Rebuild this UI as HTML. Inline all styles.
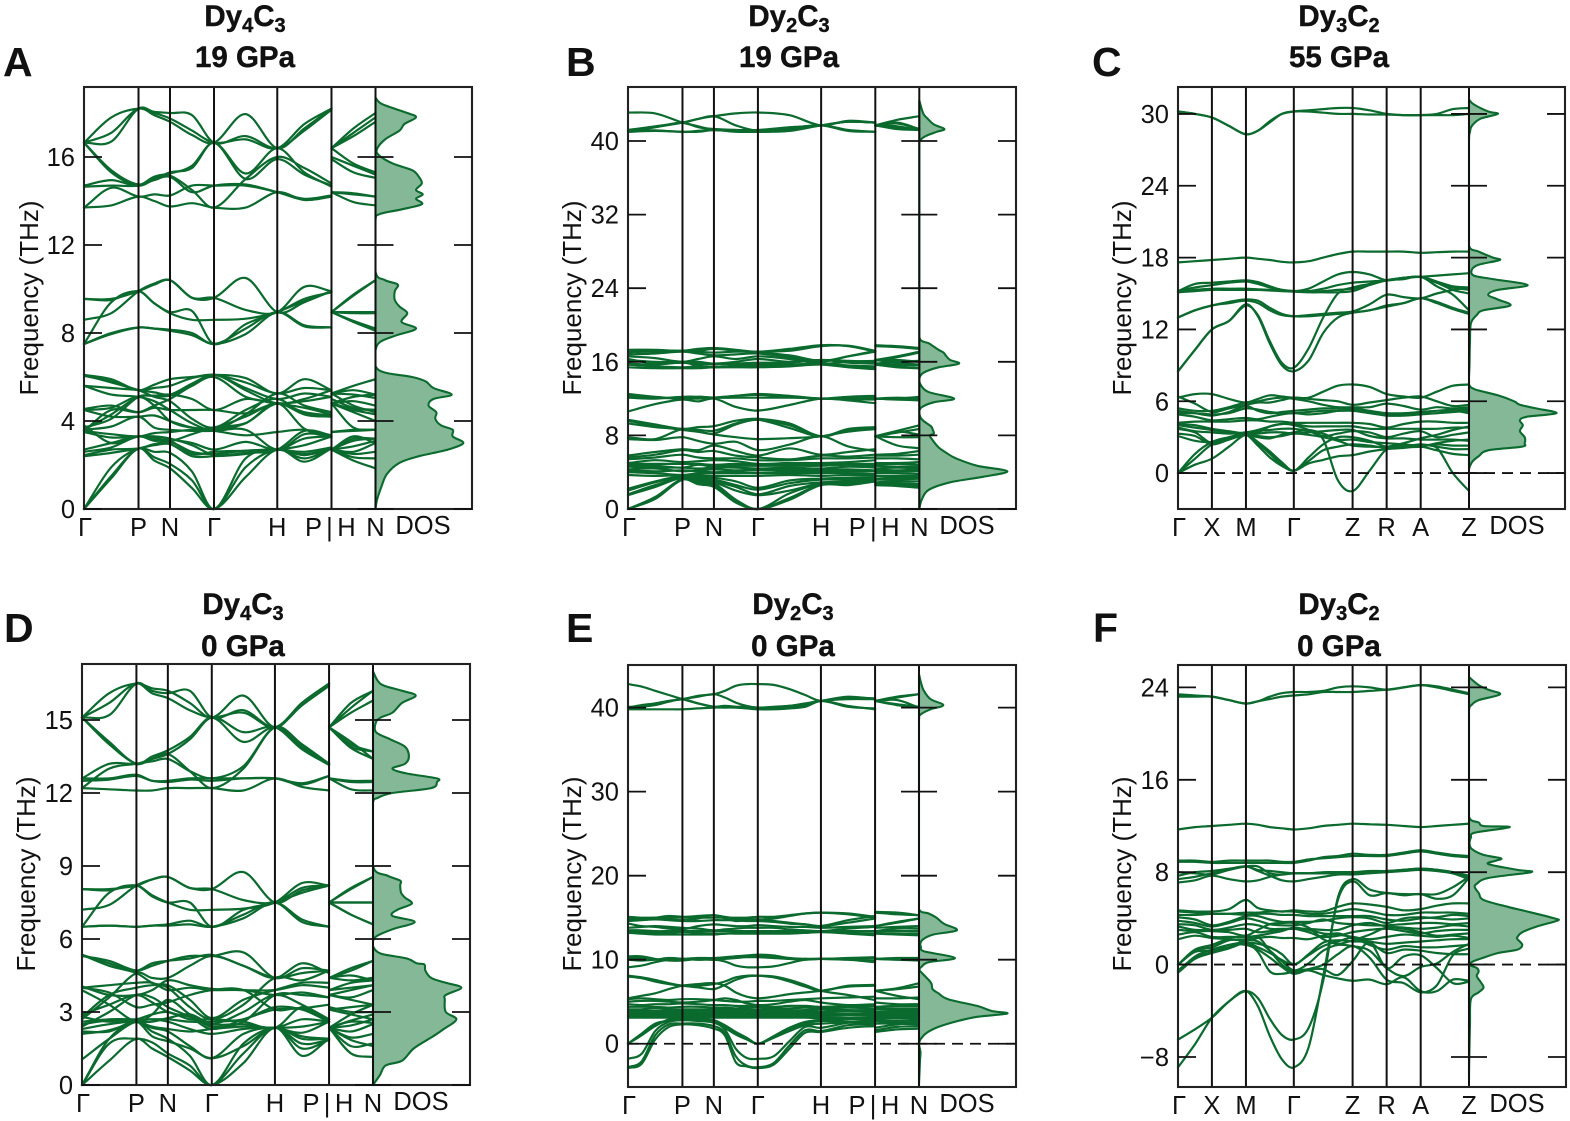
<!DOCTYPE html>
<html lang="en">
<head>
<meta charset="utf-8">
<title>Phonon band structures of dysprosium carbides</title>
<style>
html,body{margin:0;padding:0;background:#fff;width:1570px;height:1121px;overflow:hidden}
svg{display:block}
text{font-family:"Liberation Sans",sans-serif;fill:#111}
.title{font-weight:700;font-size:29.5px;text-anchor:middle;stroke:#111;stroke-width:.4px}
.letter{font-weight:700;font-size:41px}
.ytitle{font-size:26px;text-anchor:middle}
</style>
</head>
<body>
<svg id="figure" xmlns="http://www.w3.org/2000/svg" width="1570" height="1121" viewBox="0 0 1570 1121">
<rect width="1570" height="1121" fill="#fff"/>
<g id="panels"></g>

<text class="letter" x="3" y="76">A</text>
<text class="letter" x="566" y="76">B</text>
<text class="letter" x="1092" y="76">C</text>
<text class="letter" x="4" y="642">D</text>
<text class="letter" x="566" y="642">E</text>
<text class="letter" x="1093" y="642">F</text>

<text class="title" x="245" y="26">Dy<tspan font-size="20" dy="6">4</tspan><tspan dy="-6">C</tspan><tspan font-size="20" dy="6">3</tspan></text>
<text class="title" x="245" y="67">19 GPa</text>
<text class="title" x="789" y="26">Dy<tspan font-size="20" dy="6">2</tspan><tspan dy="-6">C</tspan><tspan font-size="20" dy="6">3</tspan></text>
<text class="title" x="789" y="67">19 GPa</text>
<text class="title" x="1339" y="26">Dy<tspan font-size="20" dy="6">3</tspan><tspan dy="-6">C</tspan><tspan font-size="20" dy="6">2</tspan></text>
<text class="title" x="1339" y="67">55 GPa</text>
<text class="title" x="243" y="614">Dy<tspan font-size="20" dy="6">4</tspan><tspan dy="-6">C</tspan><tspan font-size="20" dy="6">3</tspan></text>
<text class="title" x="243" y="656">0 GPa</text>
<text class="title" x="793" y="614">Dy<tspan font-size="20" dy="6">2</tspan><tspan dy="-6">C</tspan><tspan font-size="20" dy="6">3</tspan></text>
<text class="title" x="793" y="656">0 GPa</text>
<text class="title" x="1339" y="614">Dy<tspan font-size="20" dy="6">3</tspan><tspan dy="-6">C</tspan><tspan font-size="20" dy="6">2</tspan></text>
<text class="title" x="1339" y="656">0 GPa</text>

<text class="ytitle" transform="translate(38,298) rotate(-90)">Frequency (THz)</text>
<text class="ytitle" transform="translate(581,298) rotate(-90)">Frequency (THz)</text>
<text class="ytitle" transform="translate(1131,298) rotate(-90)">Frequency (THz)</text>
<text class="ytitle" transform="translate(35,874) rotate(-90)">Frequency (THz)</text>
<text class="ytitle" transform="translate(581,874) rotate(-90)">Frequency (THz)</text>
<text class="ytitle" transform="translate(1131,874) rotate(-90)">Frequency (THz)</text>
</svg>

<script>
/* ---------- shared k-path definitions ---------- */
const bccLabels = ['Γ','P','N','Γ','H','P|H','N'];
const tetLabels = ['Γ','X','M','Γ','Z','R','A','Z'];
const bccPathA = [0,.187,.295,.446,.663,.849,1];
const tetPath = [0,.1165,.2335,.398,.6,.717,.834,1];

/* ---------- panel A: Dy4C3 19 GPa ---------- */
const aTicks = [0,4,8,12,16];
const aBands = [
[16.65,17.8,18.2,18.0,17.75,17.2,16.65,16.8,16.4,17.5,18.2, 16.4,17.3,18.0],
[16.65,17.1,18.2,17.9,17.6,17.0,16.65,17.95,16.4,17.3,18.2, 16.4,17.1,17.8],
[16.65,16.7,18.2,18.05,18.0,17.9,16.65,16.95,16.4,17.2,18.15, 16.4,16.95,17.6],
[16.65,15.3,14.7,15.0,15.3,15.5,16.65,15.0,15.9,15.2,14.7, 15.9,15.3,15.05],
[16.65,15.4,14.75,15.1,15.25,15.6,16.65,15.25,16.4,15.3,14.65, 16.4,15.7,15.3],
[14.7,14.95,14.7,15.1,15.15,14.5,13.7,15.0,16.0,15.5,14.8, 16.0,15.6,15.2],
[14.65,14.7,14.7,14.95,15.1,14.4,14.7,14.75,14.4,14.1,14.25, 14.4,14.3,14.2],
[13.7,14.6,14.2,14.3,14.25,14.7,14.7,14.7,14.4,14.05,14.2, 14.4,14.35,14.2],
[13.7,13.8,14.2,14.0,13.75,13.9,13.7,13.7,14.4,14.05,14.2, 14.4,13.95,13.8],
[7.5,8.0,8.25,8.2,8.15,8.0,7.5,8.2,8.95,8.3,8.25, 8.95,8.5,8.1],
[7.5,7.95,8.25,8.2,8.1,7.9,7.5,7.95,8.95,8.35,8.25, 8.95,8.55,8.2],
[7.5,9.4,9.9,9.35,8.95,9.0,7.5,8.4,8.95,9.45,9.9, 8.95,8.95,8.95],
[8.6,8.9,9.9,10.25,10.4,9.6,9.6,10.5,8.95,9.4,9.9, 8.95,9.75,10.4],
[9.55,9.5,9.9,9.35,8.9,8.6,8.6,8.65,8.95,9.55,9.85, 8.95,8.9,8.9],
[9.55,9.55,9.9,10.2,10.4,9.6,9.6,9.05,8.95,10.1,9.9, 8.95,9.7,10.4],
[0,1.4,2.75,2.2,1.85,0.95,0,1.45,2.7,2.15,2.75, 2.7,2.2,1.85],
[0,1.5,2.75,2.35,2.05,1.3,0,1.9,2.7,2.3,2.75, 2.7,2.35,2.3],
[0,1.9,2.75,2.6,2.55,1.7,0,2.3,2.7,2.45,2.75, 2.7,2.5,2.6],
[2.4,2.55,2.75,2.9,2.95,2.4,2.4,2.5,2.7,2.5,2.75, 2.7,2.6,3.0],
[2.45,2.7,2.75,2.95,3.05,2.6,2.5,2.65,2.7,2.6,2.8, 2.7,2.85,3.1],
[2.6,2.8,3.3,3.1,3.1,2.5,2.6,2.65,2.7,2.9,3.3, 2.7,3.1,3.2],
[2.7,3.0,3.3,3.15,3.15,3.0,2.7,3.05,2.7,3.2,3.3, 2.7,3.3,3.0],
[3.5,3.25,3.3,3.3,3.2,2.9,2.45,2.55,2.7,3.55,3.35, 3.5,3.55,3.6],
[3.55,3.4,3.3,3.45,3.5,3.6,3.55,3.35,3.5,3.6,3.3, 3.5,3.6,3.6],
[3.6,3.75,4.2,3.7,3.6,3.55,3.55,3.6,2.7,3.4,3.3, 2.7,3.2,3.2],
[3.8,3.0,3.3,3.25,3.1,3.4,3.7,3.9,4.8,3.65,3.25, 4.8,3.7,3.6],
[4.5,4.2,4.2,4.25,4.0,3.7,3.6,3.9,4.8,4.35,4.2, 4.8,4.4,4.0],
[4.55,4.7,4.4,4.6,4.5,4.5,4.5,4.35,4.8,4.4,4.25, 4.8,4.55,4.5],
[4.5,4.6,5.1,4.7,4.0,3.7,3.7,4.2,4.8,4.3,4.2, 4.8,4.5,4.3],
[3.6,4.3,5.1,5.15,5.15,5.6,6.1,5.4,4.8,5.0,5.4, 4.8,5.1,5.2],
[3.7,4.1,5.1,5.15,5.2,5.0,4.5,5.0,4.8,4.9,5.1, 4.8,5.1,5.2],
[3.55,4.5,4.4,4.7,5.0,5.6,6.0,5.1,4.8,4.6,4.3, 4.8,4.9,4.7],
[5.6,5.2,5.1,4.9,4.5,3.9,3.6,4.3,5.25,4.7,4.4, 5.25,4.7,4.4],
[6.1,5.75,5.4,5.1,4.9,4.1,3.7,4.5,5.0,4.3,4.2, 5.0,4.6,4.5],
[6.1,5.9,5.4,5.65,5.9,6.0,6.1,5.95,5.25,5.9,5.4, 5.25,5.6,5.9],
[6.05,5.8,5.4,5.5,5.6,5.95,6.1,5.75,5.25,5.5,5.4, 5.25,5.4,5.2],
[5.6,5.5,5.4,5.3,5.2,5.7,6.1,5.5,5.0,5.25,5.1, 5.25,5.2,5.05]
];
const aDosFreq = [18.7,18.4,18.0,17.8,17.5,17.2,16.8,16.4,16.1,15.7,15.4,15.1,14.8,14.5,14.3,14.1,13.85,13.6,13.4,13.1,10.8,10.4,10.2,9.9,9.5,9.2,8.9,8.5,8.2,7.9,7.6,7.2,6.5,6.2,6.0,5.8,5.5,5.2,5.0,4.7,4.4,4.1,3.8,3.6,3.3,3.0,2.7,2.4,2.1,1.6,1.0,0.4,0];
const aDosVal = [0,.07,.33,.42,.30,.25,.1,.02,.03,.18,.38,.45,.48,.42,.49,.42,.48,.25,.04,0,0,.1,.23,.2,.2,.25,.33,.27,.42,.22,.05,0,0,.1,.38,.52,.6,.79,.6,.55,.63,.62,.68,.8,.8,.91,.75,.45,.25,.12,.06,.015,0];

/* ---------- panel B: Dy2C3 19 GPa ---------- */
const bTicks = [0,8,16,24,32,40];
const bBands = [
[43.1,43,42,41.6,41.2,41.2,41,41.2,41.7,41.2,41, 41.7,41.3,41.2],
[41,41.5,42,42.4,42.7,43,43.1,42.8,41.7,42.2,42, 41.7,42.3,42.7],
[41.2,41.6,42,42.4,42.7,41.7,41.1,41.3,41.7,42.1,42, 41.7,42,41.3],
[41,41.1,41,41,41.2,41.1,41,41.4,41.7,41.1,41, 41.7,41.5,41.2],
[41.1,41.5,42,41.5,41.3,41.2,41.2,41.5,41.7,42.1,42, 41.7,41.9,41.3],
[41.2,41.15,41,41.1,41.2,41,41,41.1,41.7,42.1,42, 41.7,41.6,41.2],
[17.3,17.3,17.2,17.4,17.5,17.3,17.1,17.4,17.8,17.7,17.1, 17.8,17.7,17.5],
[17.1,17.1,17.2,17.1,17.0,17.1,17.1,17.2,17.7,17.75,17.2, 17.7,17.6,17.4],
[17.0,17.2,17.2,17.2,17.4,17.2,17.0,16.7,16.1,16.6,17.2, 16.2,16.6,17.1],
[16.8,16.9,17.1,16.9,16.7,16.8,16.9,16.5,16.0,16.6,17.1, 16.1,16.5,17.0],
[16.6,16.4,16.0,16.3,16.6,16.3,16.6,16.3,15.8,16.0,16.1, 15.8,16.0,16.1],
[16.2,16.0,16.0,16.0,15.8,16.0,16.3,16.0,16.2,16.1,16.0, 16.2,16.2,16.0],
[16.3,15.8,15.9,15.8,15.7,15.8,15.9,15.9,16.2,15.9,15.8, 16.2,15.9,15.7],
[15.8,15.7,15.9,15.6,15.4,15.6,15.7,15.7,15.8,15.6,15.5, 15.8,15.7,15.6],
[15.7,15.5,15.4,15.5,15.4,15.5,15.6,15.6,15.8,15.5,15.3, 15.8,15.5,15.3],
[15.4,15.3,15.3,15.3,15.4,15.4,15.4,15.5,15.7,15.4,15.2, 15.7,15.4,15.3],
[12.5,12.2,12,12.2,12.1,12.3,12.5,12.3,12,12.2,12.3, 12,12.1,12],
[12.3,12.1,12,12,12.1,12.3,12.4,12.2,12,12,12.1, 12,12,12.2],
[12.1,12,12.2,12.2,12.1,12.1,12.1,12.1,12,11.9,11.9, 12,11.9,11.9],
[10.6,11.4,11.9,11.7,12.0,11.1,10.7,11.3,12,11.8,11.5, 12,11.9,11.8],
[9.7,9.2,8.7,8.9,9.0,9.6,9.8,9.3,7.9,8.6,8.7, 7.9,8.5,9.1],
[9.6,9.0,8.6,8.4,8.2,9.2,9.7,9.1,7.9,8.6,8.8, 7.9,8.3,8.7],
[9.3,8.9,8.7,8.6,8.5,9.3,9.7,8.8,7.9,8.7,8.9, 7.9,8.4,8.1],
[7.8,7.6,8.7,8.4,8.1,7.8,7.6,7.7,7.9,8.4,8.7, 7.9,7.8,7.8],
[7.6,7.5,7.8,7.4,7.1,7.3,6.4,7.0,7.9,6.8,6.3, 7.9,6.9,6.6],
[5.8,6.2,6.5,6.4,6.9,6.3,5.8,6.6,5.9,6.2,6.5, 5.9,6.0,6.3],
[5.6,5.9,6.4,6.2,6.3,5.8,5.6,5.4,5.8,5.7,5.9, 5.8,5.8,5.9],
[5.4,5.6,5.9,5.6,5.5,5.5,5.3,5.3,5.5,5.5,5.6, 5.5,5.5,5.4],
[5.0,5.3,5.1,5.2,5.3,5.2,4.9,5.0,5.0,5.1,5.3, 5.0,5.0,5.1],
[4.9,4.9,4.9,4.9,4.8,4.9,4.8,4.9,4.9,4.9,4.9, 4.9,4.9,4.8],
[4.7,4.7,4.5,4.8,4.6,4.7,4.7,4.7,4.7,4.8,4.7, 4.7,4.6,4.6],
[4.6,4.5,4.5,4.4,4.5,4.5,4.4,4.5,4.4,4.6,4.5, 4.4,4.5,4.4],
[4.3,4.4,4.1,4.2,4.3,4.2,4.3,4.3,4.3,4.3,4.2, 4.3,4.2,4.3],
[4.2,4.1,4.2,4.1,4.0,4.1,4.2,4.1,4.1,4.1,4.1, 4.1,4.1,4.1],
[4.0,3.9,3.7,3.9,3.9,3.9,3.9,3.9,3.9,3.9,3.8, 3.9,3.9,3.8],
[3.7,3.6,3.7,3.7,3.6,3.6,3.6,3.7,3.6,3.7,3.6, 3.6,3.6,3.6],
[2.2,3.0,3.6,3.5,3.4,3.0,2.3,3.1,3.3,3.4,3.4, 3.3,3.4,3.4],
[2.0,2.9,3.5,3.3,3.2,2.6,2.1,2.8,3.2,3.2,3.3, 3.2,3.2,3.3],
[1.6,2.6,3.4,3.1,3.0,2.4,1.6,2.5,2.9,3.0,3.3, 2.9,3.0,3.0],
[1.5,2.4,3.4,3.0,2.9,2.0,1.5,2.0,2.8,2.9,3.2, 2.8,2.8,2.7],
[0,1.3,3.3,3.0,2.8,1.0,0,1.7,2.7,2.7,3.1, 2.7,2.7,2.6],
[0,1.2,3.2,2.9,2.6,0.9,0,1.2,2.65,2.7,3.0, 2.65,2.6,2.5],
[0,1.1,3.2,2.7,2.4,0.7,0,1.0,2.6,2.6,3.0, 2.6,2.5,2.3]
];
const bDosFreq = [44.4,43,42.5,41.8,41.3,41,40.6,40.2,39.6,18.7,18,17.3,17,16.6,16.2,15.8,15.4,15,14.6,14,13.4,12.7,12,11.6,11.1,10.6,10,9.6,9,8.6,8.2,8,7.6,6.7,6.1,5.5,4.7,4.1,3.5,2.9,2.1,1,0];
const bDosVal = [0,.04,.08,.15,.26,.18,.08,.02,0,0,.1,.2,.25,.28,.32,.41,.2,.08,.02,0,.02,.1,.36,.15,.03,0,.01,.04,.12,.14,.15,.11,.13,.2,.28,.38,.6,.91,.66,.32,.1,.025,0];

/* ---------- panel C: Dy3C2 55 GPa ---------- */
const cTicks = [0,6,12,18,24,30];
const cBands = [
[30.2,30,29.7,29,28.3, 28.6,29.4,30,30.2, 30.3,30.4,30.5,30.5, 30.3,30, 29.9,29.9, 30,30.4,30.5],
[30.2,30,29.7,29,28.3, 28.6,29.3,30,30.2, 30.2,30.1,30,30, 29.95,29.95,29.9,29.9,29.9,29.9,30],
[17.6,17.7,17.8,17.9,18, 17.9,17.8,17.65,17.6, 17.7,18,18.3,18.5, 18.5,18.5,18.5,18.4,18.45,18.5,18.5],
[15.2,15.8,15.9,16,16.1, 15.95,15.6,15.3,15.2, 15.4,16,16.6,16.8, 16.6,16.1, 16.3,16.4, 16.5,16.6,16.7],
[15.2,15.5,15.7,15.9,16, 15.8,15.5,15.3,15.2, 15.2,15.4,15.7,15.9, 16.0,16.1,16.3,16.4,16,15.6,15.5],
[15.1,15.3,15.4,15.4,15.4, 15.35,15.3,15.25,15.2, 15.15,15.2,15.3,15.4, 15.8,16.1,16.3,16.4,15.9,15.5,15.3],
[15.1,15.2,15.3,15.3,15.3, 15.3,15.25,15.2,15.15, 15.1,15.1,15.1,15.2, 15.7,16.1,16.3,16.4,15.9,15.3,15],
[13,13.6,14,14.3,14.5, 14.4,13.8,13.3,13.1, 13.1,13.2,13.3,13.4, 13.6,13.9,14.2,14.6,14.3,13.8,13.4],
[13,13.6,14,14.2,14.4, 14.2,13.6,13.2,13.1, 13.2,13.3,13.4,13.5, 14.1,14.9,14.7,14.6,15,15.3,15.5],
[8.5,10.3,12,12.7,14.1, 13.1,10.8,9,8.5, 9.4,11.7,13,13.4, 13.6,14.0,14.2,14.6,14.2,13.7,13.3],
[8.5,10.3,12,12.7,14.0, 13.2,11,9.2,8.8, 10.4,13,15,15.5, 15.8,16.1,16.2,16.4,15.6,14.9,13.6],
[6.3,6.6,6.6,6.2,5.9, 6.2,6.5,6.4,6.3, 6.3,6.8,7.3,7.4, 7.2,6.6,6.4,6.3,6.8,7.3,7.4],
[6.4,5.8,5.1,5.4,5.7, 5.9,5.9,6.1,6.3, 6.2,6.1,6,5.7, 5.9,6.1,6.3,6.4,6,5.6,5.7],
[5.4,5.2,5.2,5.5,5.9, 6,6.2,6.3,6.2, 6,5.7,5.5,5.5, 5.5,5.8,5.6,5.3,5.5,5.4,5.5],
[5.2,5.0,4.8,5.1,5.6, 5.2,5.0,5.1,5.2, 5.3,5.4,5.4,5.4, 5.2,5.0,5.0,5.1,5.2,5.3,5.3],
[5.0,5.0,4.9,5,5.4, 5.3,5.1,5.0,5.0, 5.1,5.2,5.2,5.2, 5,4.8,4.8,4.9,5,5.1,5.2],
[4.9,4.7,4.4,4.5,4.6, 4.5,4.7,4.9,5, 4.9,5,5.2,5.3, 5.1,4.9,4.9,5,5,5.2,5],
[4.2,4.3,4.3,4.3,4.4, 4.4,4.3,4.3,4.2, 4.2,4.2,4.2,4.2, 4.1,3.8,4.1,4.3,4.3,4.2,4.2],
[4.1,4,3.7,3.5,3.3, 3.4,3.9,4.1,4.1, 3.9,3.9,3.9,3.9, 3.7,3.7,3.7,3.7,3.7,3.8,3.8],
[4,3.8,3.6,3.4,3.2, 3.5,3.6,3.7,3.7, 3.5,3.1,3.3,3.5, 3.4,3,3.3,3.5,3,3.2,3.4],
[3.7,3.4,2.5,2.9,3.2, 3.3,3.4,3.4,3.3, 3.4,3.5,3.6,3.6, 3.1,2.9,2.9,2.8,2.8,2.8,2.7],
[3.3,3.1,2.4,2.8,3.2, 2.3,1.3,0.6,0.2, 0.8,1.1,1.4,1.5, 1.8,2.0,2.1,2.2,1.9,1.6,1.5],
[3.1,2.7,2.6,2.9,3.3, 2.5,1.6,0.7,0.2, 1.0,1.9,2.2,2.4, 2.3,2.1,2.2,2.4,2.2,2.0,2.0],
[0,0.7,1.2,2.2,3.2, 2.6,1.8,0.9,0.2, 1.3,2.4,3.0,3.0, 2.7,2.2,2.2,2.2,2.5,2.7,2.8],
[0,1.2,2.4,2.8,3.2, 3.0,2.9,3.2,3.4, 3.6,3.3,2.8,2.8, 2.6,2.5,2.4,2.3,2.4,2.3,2.3],
[0,1.6,2.6,3.0,3.3, 3.1,3.0,3.1,3.3, 3.2,3.0,2.7,2.3, 2.2,2.2,2.5,2.9,3.2,3.6,3.9],
[3.8,3.5,3.4,3.3,3.4, 3.6,3.9,4.1,4.0, 3.6,2.8,-0.6,-1.5, 0.2,2.0,2.3,2.3,2.1,0,-1.5]
];
const cDosFreq = [31.2,30.8,30.2,30,29.6,29,28.5,27.8,19,18.5,18,17.8,17.4,17,16.5,16.2,15.7,15.3,14.9,14.5,14,13.6,13.2,12.5,11,9,8,7.4,7,6.5,6,5.7,5.4,5,4.7,4.4,4,3.5,3,2.5,2.2,1.9,1.4,1,.6,.3];
const cDosVal = [0,.05,.2,.3,.12,.03,.01,0,0,.1,.25,.32,.1,.03,.05,.25,.61,.3,.2,.3,.43,.15,.08,.02,.01,.005,0,0,.06,.3,.47,.53,.7,.91,.6,.53,.56,.53,.58,.58,.55,.2,.1,.04,.01,0];

/* ---------- panel D: Dy4C3 0 GPa ---------- */
const dTicks = [0,3,6,9,12,15];
const dBands = [
[15.1,16.1,16.5,16.3,16.2,15.7,15.1,16,14.7,15.7,16.5, 14.7,15.7,16.2],
[15.1,15.7,16.5,16.1,15.9,15.4,15.1,15.3,14.7,15.7,16.5, 14.7,15.5,16.2],
[15.1,15.2,16.5,16.2,16.1,16.2,15.1,15.4,14.7,15.6,16.4, 14.7,15.3,15.8],
[15.1,14.1,13.2,13.5,13.75,14.3,15.1,14.1,14.7,13.9,13.2, 14.7,14,13.7],
[15.1,14.0,13.2,13.4,13.6,14.2,15.1,14.5,14.7,13.8,13.15, 14.7,13.85,13.4],
[12.6,13.2,13.2,13.4,13.6,12.9,12.2,13,14.7,14,13.2, 14.7,14.1,13.4],
[12.2,13.0,13.2,13.3,13.4,12.9,12.6,13.1,14.7,13.9,13.2, 14.7,13.9,13.7],
[12.6,12.6,12.75,12.5,12.5,12.6,12.6,12.6,12.6,12.4,12.7, 12.6,12.5,12.5],
[12.5,12.55,12.7,12.5,12.45,12.55,12.5,12.6,12.6,12.35,12.7, 12.6,12.45,12.45],
[12.2,12.15,12.1,12.1,12.2,12.2,12.2,12.1,12.6,12.25,12.1, 12.6,12.15,12.1],
[6.5,6.55,6.5,6.55,6.6,6.75,6.5,7.0,7.5,6.7,6.5, 7.5,7.0,6.6],
[6.5,6.55,6.5,6.55,6.55,6.6,6.5,6.85,7.5,6.8,6.5, 7.5,7.0,6.6],
[6.5,7.9,8.2,7.75,7.5,7.5,6.5,7.2,7.5,7.9,8.2, 7.5,7.5,7.5],
[7.2,7.4,8.2,8.45,8.55,8.1,8.05,8.75,7.5,8.0,8.2, 7.5,8.1,8.55],
[8.05,8.0,8.2,7.8,7.5,7.2,7.2,7.25,7.5,8.3,8.2, 7.5,8.05,8.55],
[8.05,8.05,8.2,8.45,8.55,8.1,8.05,7.6,7.5,8.1,8.2, 7.5,7.5,7.5],
[0,1.0,1.9,1.5,1.15,0.6,0,0.9,2.35,1.2,1.9, 2.35,1.3,1.15],
[0,1.7,1.9,1.75,1.3,0.8,0,1.3,2.35,1.5,1.85, 2.35,1.6,1.7],
[0,1.9,2.6,2.2,1.9,1.2,0,1.7,2.35,1.9,1.9, 2.35,1.95,2.1],
[1.05,1.9,2.6,2.35,2.2,1.6,1.1,2.1,2.35,2,1.9, 2.35,2.2,2.5],
[2.1,2.25,2.6,2.7,2.6,2.3,2.1,2.3,2.35,2.15,2.6, 2.35,2.45,2.7],
[2.3,2.5,2.6,2.4,2.3,2.2,2.3,2.4,2.35,2.4,2.6, 2.35,2.6,2.55],
[2.5,2.65,2.6,2.6,2.75,2.9,2.5,2.5,2.35,2.7,2.6, 2.35,2.65,2.9],
[2.6,2.7,2.7,2.7,2.7,2.6,2.6,2.7,3.2,3.1,2.6, 3.2,3.0,3.0],
[2.8,2.6,2.7,2.9,3.0,2.7,2.7,2.6,2.35,3.2,2.6, 2.35,2.9,3.3],
[2.9,3.3,3.7,3.4,3.0,2.8,2.5,3.0,3.7,3.3,2.7, 3.7,3.5,3.3],
[3.9,3.3,2.6,2.9,3.5,2.9,2.4,2.6,3.7,3.7,3.6, 3.7,3.6,3.9],
[4.0,3.8,3.2,3.3,3.4,3.7,3.9,3.9,3.1,3.15,2.7, 3.1,3.2,3.3],
[2.4,3.0,3.7,3.6,3.2,2.8,2.3,2.7,3.1,3.15,3.3, 3.1,2.9,2.7],
[2.2,2.2,2.6,2.0,1.8,1.5,1.1,1.6,2.35,1.7,1.85, 2.35,1.85,1.6],
[4.0,4.1,4.2,4.2,3.9,4.0,3.9,3.9,3.7,3.8,3.6, 3.7,3.9,4.1],
[4.05,3.7,3.7,3.9,4.3,4.1,3.95,3.9,3.9,4.1,4.0, 3.9,4.0,4.1],
[2.8,3.7,4.0,4.1,4.1,3.5,2.75,3.5,3.9,4.2,4.2, 3.9,4.2,4.3],
[2.7,3.6,4.6,4.4,4.4,4.9,5.3,4.9,4.4,4.6,4.7, 4.4,4.3,4.4],
[5.35,4.9,4.6,4.2,4.0,3.2,2.7,3.3,4.4,4.3,4.7, 4.4,4.8,5.1],
[5.35,5.0,4.7,5.0,5.1,5.2,5.35,4.9,4.4,5.0,4.6, 4.4,4.7,5.1],
[5.3,5.1,4.7,4.9,5.1,5.3,5.3,5.45,4.4,4.8,4.7, 4.4,4.5,4.3]
];
const dDosFreq = [17,16.6,16.4,16.2,16,15.7,15.3,15.1,14.9,14.5,14.2,13.9,13.5,13.2,13,12.8,12.6,12.45,12.2,12,11.8,11.6,9,8.6,8.4,8.2,7.9,7.7,7.45,7.2,6.95,6.7,6.4,6.1,5.9,5.7,5.4,5.2,5,4.95,4.7,4.4,4.2,4,3.7,3.5,3,2.7,2.3,2,1.5,1,.8,.4,0];
const dDosVal = [0,.05,.12,.3,.44,.3,.2,.08,.03,.03,.18,.33,.37,.33,.2,.35,.66,.66,.6,.2,.05,0,0,.15,.28,.28,.29,.33,.4,.25,.2,.43,.2,.03,0,0,.08,.35,.45,.53,.54,.6,.75,.91,.75,.74,.75,.86,.73,.62,.42,.3,.13,.07,0];

/* ---------- panel E: Dy2C3 0 GPa ---------- */
const eTicks = [0,10,20,30,40];
const eBands = [
[42.8,42.5,42,41.5,41, 40.5,40.1, 40.2,40.1,40.1,40, 40,40.1,40.2,40.8, 40.1,39.9, 40.8,40.3,40],
[40,40.3,40.5,40.8,41, 41.4,41.6, 42,42.6,42.8,42.8, 42.7,42.2,41.5,40.8, 41.2,41.1, 40.8,41.3,41.6],
[39.9,40.2,40.5,40.8,41, 41.3,41.6, 41.2,40.6,40.2,40, 40.1,40.2,40.4,40.8, 41.3,41, 40.8,41.2,41.6],
[39.8,39.8,39.8,39.8,39.8, 39.9,40, 40,40,39.9,39.8, 39.8,39.9,40.1,40.8, 40.2,39.8, 40.8,40.4,40.1],
[40.1,40.1,40.3,40.7,41, 40.5,40.1, 40.1,40.1,40,40, 40,40.2,40.5,40.8, 41,41, 40.8,40.9,40],
[14.8,14.9,15,15.2,15.1, 15.2,15.3, 15.1,14.9,14.9,14.8, 14.9,15.2,15.5,15.6, 15.5,15.1, 15.7,15.6,15.3],
[15.1,15,15,15,15, 15,15, 15,15,15,15.1, 15.1,15.3,15.5,15.6, 15.4,15, 15.6,15.4,15.3],
[14.9,14.9,14.9,14.8,14.7, 14.9,15.3, 14.9,14.6,14.7,14.8, 14.6,14.4,14.2,14, 14.7,15.2, 14,14.5,14.9],
[14.6,14.7,14.8,14.7,14.6, 14.6,14.7, 14.7,14.7,14.6,14.6, 14.5,14.3,14.2,14, 14.4,14.9, 14,14.4,14.9],
[14.3,14,13.9,13.7,13.6, 14,14.2, 14.1,14,14,14.1, 14,13.9,13.9,13.8, 13.9,14, 13.8,13.9,14],
[13.8,13.9,14,13.9,13.8, 13.7,13.5, 13.6,13.7,13.8,13.8, 13.8,13.6,13.5,13.4, 13.7,13.9, 13.4,13.7,13.7],
[13.5,13.5,13.4,13.4,13.4, 13.4,13.4, 13.4,13.4,13.4,13.4, 13.4,13.4,13.4,13.4, 13.4,13.4, 13.4,13.4,13.4],
[13.4,13.3,13.2,13.2,13.3, 13.2,13.1, 13.1,13.2,13.3,13.3, 13.2,13.2,13.2,13.3, 13.2,13.1, 13.2,13.1,13.1],
[13.2,13.1,13,13,13, 13,13, 13.1,13.1,13.1,13.1, 13.1,13.1,13.2,13.3, 13.1,12.9, 13.1,13,12.9],
[10.4,10.4,10.1,9.9,9.9, 10.1,10, 10.2,10.4,10.5,10.6, 10.5,10.2,10.1,10.1, 10,9.9, 10.1,10,10],
[10.2,10.2,10,10,10.1, 10.2,10.2, 10.3,10.4,10.4,10.4, 10.3,10.1,10,10.1, 10.1,10.2, 10.1,10.2,10.2],
[10,9.9,10,10.2,10.1, 10,10.1, 10.1,10.2,10.3,10.3, 10.2,10.1,10.1,10.1, 10.2,10.3, 10.1,10.1,10.2],
[9.1,9.3,9.7,10,10.1, 10,10, 9.8,9.3,9.1,9.1, 9.2,9.6,10,10.1, 10,9.7, 10.1,10,9.9],
[8.1,7.9,7.6,7.2,6.9, 6.7,6.5, 7,7.6,8,8.1, 8,7.6,7,6.3, 5.8,5.2, 6.3,5.7,5.3],
[8,7.8,7.4,7.1,6.9, 6.9,7.1, 7.4,7.9,8.1,8.1, 7.9,7.4,6.8,6.3, 6.9,7, 6.3,6.6,7.2],
[5.4,5.7,6,6.5,6.9, 7.1,7.2, 6.9,6.1,5.6,5.4, 5.6,5.9,6.1,6.3, 6.8,6.9, 6.3,6.5,6.8],
[5.3,5.4,5.3,5.2,5.3, 5.3,5.2, 5.1,5,5,5.1, 5.1,5.2,5.3,5.4, 5.5,5.6, 5.4,5.4,5.5],
[5,5.1,5.1,5,4.9, 5,5.2, 5.4,5.2,4.8,4.6, 4.7,5,5.2,4.9, 4.6,4.7, 4.9,4.7,4.7],
[4.7,4.6,4.7,4.7,4.8, 4.7,4.6, 4.6,4.5,4.5,4.5, 4.4,4.5,4.5,4.4, 4.5,4.5, 4.4,4.5,4.5],
[4.4,4.4,4.4,4.3,4.4, 4.4,4.3, 4.3,4.2,4.3,4.3, 4.2,4.2,4.3,4.2, 4.3,4.2, 4.2,4.2,4.2],
[4.1,4.1,4.2,4.1,4.1, 4.1,4.1, 4.1,4.1,4.1,4.0, 4.1,4,4,4.1, 4,4, 4.1,4,4],
[3.9,3.9,3.9,3.9,3.9, 3.9,3.9, 3.9,3.9,3.9,3.9, 3.9,3.9,3.9,3.8, 3.9,3.8, 3.8,3.8,3.8],
[3.7,3.7,3.7,3.7,3.7, 3.7,3.7, 3.7,3.7,3.7,3.7, 3.7,3.7,3.7,3.6, 3.6,3.6, 3.6,3.6,3.6],
[3.5,3.5,3.5,3.5,3.5, 3.5,3.5, 3.5,3.5,3.5,3.5, 3.5,3.5,3.5,3.4, 3.4,3.4, 3.4,3.4,3.4],
[3.3,3.3,3.3,3.3,3.3, 3.3,3.3, 3.3,3.3,3.3,3.3, 3.3,3.3,3.3,3.2, 3.1,3.2, 3.2,3.2,3.2],
[3.1,3.1,3.1,3.1,3.1, 3.1,3.1, 3.1,3.1,3.1,3.1, 3.1,3.1,3.1,3.0, 2.9,3.0, 3.0,3.0,3.0],
[0,1,2.1,2.9,3, 2.9,2.8, 2.2,1.4,0.7,0, 0.9,1.9,2.6,2.8, 2.9,2.8, 2.8,2.7,2.8],
[0,1.1,2.2,2.8,3, 2.9,2.7, 2,1.2,0.6,0, 0.8,1.7,2.4,2.7, 2.6,2.5, 2.7,2.5,2.5],
[0,1.2,2.4,2.7,2.8, 2.8,2.6, 1.9,1.1,0.5,0, 0.7,1.5,2.2,2.4, 2.5,2.4, 2.4,2.4,2.3],
[-2.9,-2.4,0.5,2,2.3, 2.2,1.8, 1.0,-2.2,-2.7,-2.9, -2.5,-0.6,1.3,1.4, 1.9,2.1, 1.4,1.7,1.8],
[-2.8,-2.1,1.0,2.3,2.4, 2.4,2.1, 1.3,-1.5,-2.6,-2.8, -2.3,-0.2,1.6,1.5, 2.2,2.3, 1.6,2.0,2.1],
[-1.8,-1.2,1.5,2.6,2.8, 2.7,2.5, 1.7,-0.6,-1.7,-1.8, -1.5,0.3,2.0,1.9, 2.5,2.7, 1.9,2.3,2.6]
];
const eDosFreq = [44,43,42,41,40.3,39.8,39.2,38.5,16,15.5,15,14.5,14.2,13.5,13,12.5,12,11.5,11,10.2,9.7,9.2,8.8,8.3,7.6,7.1,6.5,6,5.3,4.5,3.9,3.6,3.2,2.7,2,1.3,.6,0,-1,-2,-4,-5];
const eDosVal = [0,.02,.05,.12,.25,.12,.02,0,0,.1,.18,.23,.27,.39,.15,.05,.015,.02,.05,.37,.1,.03,.005,.04,.1,.13,.14,.2,.3,.6,.75,.91,.6,.4,.2,.08,.02,0,.015,.01,.003,0];

/* ---------- panel F: Dy3C2 0 GPa ---------- */
const fTicks = [-8,0,8,16,24];
const fBands = [
[23.4,23.3,23.2,22.9,22.6, 22.8,23.2,23.5,23.6, 23.6,23.7,24,24.1, 24,23.8, 24,24.2, 24.1,23.8,23.5],
[23.2,23.2,23.2,22.9,22.6, 22.8,23,23.2,23.3, 23.4,23.6,23.6,23.6, 23.7,23.8, 24,24.2, 24,23.7,23.4],
[11.7,11.9,12,12.1,12.2, 12.1,11.9,11.8,11.7, 11.8,12,12.1,12.2,12.15,12.1,12,11.9,12,12.1,12.2],
[8.9,8.9,8.8,8.8,8.8, 8.8,8.8,8.8,8.8, 9,9.3,9.4,9.6, 9.5,9.5,9.7,9.9,9.7,9.5,9.4],
[9.0,9,8.9,9,9, 9,9,8.9,8.9, 9.1,9.2,9.3,9.4, 9.4,9.4,9.6,9.8,9.6,9.4,9.3],
[8,7.9,7.8,8.2,8.5, 8.5,7.9,7.8,7.9, 7.9,8,8,8, 8.1,8.1,8.2,8.3,8.2,8,7.6],
[7.7,8,8.1,8.3,8.5, 8.2,8.1,8,7.9, 7.9,7.9,7.9,7.9, 8,8.1,8.2,8.3,8.2,8.0,7.7],
[7.4,7.6,7.9,8.2,8.5, 8.1,7.7,7.3,7.2, 7.4,7.6,7.8,7.8, 7.9,8,8.1,8.2,8.1,7.9,7.5],
[7.1,7.3,7.7,7.4,7.2, 7.3,7.6,7.8,7.9, 7.9,7.9,8,8, 8,8,8.2,8.3,8.2,7.9,7.4],
[-6.5,-5.6,-4.6,-3.2,-2.3, -2.9,-4.7,-6.1,-6.5, -5.5,-1.4,5.8,7.4, 6.5,6.2,6.1,6.1,6.1,6.7,7.6],
[-8.9,-6.9,-4.6,-3.2,-2.3, -3.6,-6.2,-8.2,-8.9, -7.2,-1.0,5.6,7.2, 6,6.2,6,6.1,5.7,6,7.5],
[4.7,4.6,4.6,4.8,5.6, 4.9,4.7,4.6,4.7, 4.6,4.6,5,5.3, 5.2,5,4.7,4.8,5.1,5.3,5.3],
[4.6,4.5,4.4,4.4,4.5, 4.5,4.6,4.6,4.6, 4.4,4.4,4.6,4.8, 4.6,4.3,4.3,4.5,4.5,4.5,4.4],
[4.3,4.3,4.4,4.4,4.3, 4.4,4.4,4.3,4.3, 4.2,4.2,4.2,4.2, 4.2,3.9,3.8,4,4.1,4.3,4.2],
[4.1,3.9,3.4,3.7,4.2, 4.2,3.9,3.7,3.7, 3.7,3.8,4,4.1, 4,3.6,4,4.1,4,3.9,4],
[3.8,3.6,3.3,3.6,4, 3.8,3.5,3.4,3.4, 3.6,3.9,3.6,3.5, 3.4,3.4,3.5,3.6,3.6,3.5,3.6],
[3.5,3.4,3,3.2,3.5, 3.4,3.1,3.1,3.1, 3.1,3,3,3.4, 3.6,3.3,3.2,3.1,3.2,3.4,3.3],
[3.3,3,3,3,3.1, 2.8,2.9,3,3.1, 2.8,2.4,2.5,2.8, 3,3.1,2.9,2.7,2.9,3,3],
[3.0,2.9,2.9,2.8,2.5, 3,3.5,3.6,3.6, 3.2,2.2,1.8,2.1, 2.6,3.2,3.1,2.8,2.5,2.6,2.7],
[2.6,2.8,2.4,2.4,2.4, 2.5,2.7,2.9,3.2, 3,2.7,2.6,2.4, 2.2,2.4,2.6,2.5,2.4,2.5,2.3],
[2.2,2.5,2.3,2.2,2.1, 2.3,2.4,2.3,2.3, 2.2,2.5,2.7,2.3, 2,1.8,1.9,2,2.1,2.2,2.2],
[-0.6,0.7,1.3,1.7,1.9, 1.5,1,0.4,0, 0.8,1.6,2.0,2.3, 1.7,1.3,1.6,1.5,1.5,1.6,1.7],
[-0.7,0.5,1.0,1.4,1.9, 1.8,1.5,0.9,0, 0.9,1.9,2.1,2.0, 1.9,1.0,1.3,1.2,1.0,0.9,0.9],
[0,1.1,1.2,1.5,2.1, 2.0,1.2,0.3,-0.5, 0.1,1.2,1.7,1.6, 1.2,-0.3,-1.0,-0.2,0.1,1.1,1.8],
[0,1.2,1.5,2.1,2.2, 2.4,1.2,0,-0.7, -0.5,-0.9,-1.2,-1.4, -1.3,-1.7,-1.1,-2.3,-2.3,-1.3,-1.4],
[0,1.3,1.7,2.2,1.9, 1.1,-0.6,-0.8,-0.6, -0.4,-0.4,-0.9,0.3, 1.9,-0.3,0.7,0.8,-0.3,-1.6,-1.5],
[-0.5,0.6,1.1,1.7,1.7, 1.3,0.6,-0.2,-0.8, -0.4,0,0.9,1.6, 0.6,-1.3,-1.6,-2.4,-1.8,0.8,1.4]
];
const fDosFreq = [24.9,24.2,23.8,23.4,22.9,22.5,22,12.8,12.3,12,11.9,11.4,11,10.5,10,9.5,9.2,9,8.7,8.2,8,7.5,7,6.7,6.2,5.6,5,4.6,4,3.8,3.3,2.8,2.4,2.2,1.7,1.3,1,.6,.3,0,-.3,-.6,-1,-1.5,-2,-2.4,-3,-5,-8,-10];
const fDosVal = [0,.1,.2,.32,.1,.03,0,0,.1,.15,.42,.05,.02,.005,.03,.15,.33,.28,.2,.5,.64,.2,.08,.06,.1,.15,.4,.6,.88,.91,.7,.55,.5,.5,.55,.5,.3,.15,.05,0,.08,.1,.08,.12,.15,.1,.02,.01,.003,0];

/* ---------- drawing ---------- */
const SVGNS = 'http://www.w3.org/2000/svg';
const GREEN = '#0b6a2e';
const root = document.getElementById('panels');

function make(parent, tag, attrs, text) {
  const el = document.createElementNS(SVGNS, tag);
  for (const k in attrs) el.setAttribute(k, attrs[k]);
  if (text !== undefined) el.textContent = text;
  parent.appendChild(el);
  return el;
}

function kGrid(path, divs, breakSeg) {
  const grid = [path[0]];
  for (let i = 0; i < divs.length; i++) {
    for (let j = 0; j <= divs[i]; j++) {
      if (j === 0 && i !== breakSeg) continue;
      grid.push(path[i] + (path[i + 1] - path[i]) * j / divs[i]);
    }
  }
  return grid;
}

function splinePath(pts) {
  let d = 'M' + pts[0][0].toFixed(1) + ' ' + pts[0][1].toFixed(1);
  for (let i = 0; i < pts.length - 1; i++) {
    const p0 = pts[Math.max(0, i - 1)], p1 = pts[i], p2 = pts[i + 1], p3 = pts[Math.min(pts.length - 1, i + 2)];
    const c1x = p1[0] + (p2[0] - p1[0]) / 3;
    const c2x = p2[0] - (p2[0] - p1[0]) / 3;
    const s1 = (p2[1] - p0[1]) / Math.max(1e-6, p2[0] - p0[0]);
    const s2 = (p3[1] - p1[1]) / Math.max(1e-6, p3[0] - p1[0]);
    const dx = p2[0] - p1[0];
    const c1y = p1[1] + s1 * dx / 3;
    const c2y = p2[1] - s2 * dx / 3;
    d += 'C' + c1x.toFixed(1) + ' ' + c1y.toFixed(1) + ' ' + c2x.toFixed(1) + ' ' + c2y.toFixed(1) + ' ' + p2[0].toFixed(1) + ' ' + p2[1].toFixed(1);
  }
  return d;
}

/* smooth outline of the DOS, traversed along frequency, never crossing the baseline */
function dosPath(pts, base) {
  const clampX = x => Math.max(base, x);
  const between = (v, a, b) => Math.min(Math.max(v, Math.min(a, b)), Math.max(a, b));
  let d = 'M' + base + ' ' + pts[0][1].toFixed(1) + 'L' + pts[0][0].toFixed(1) + ' ' + pts[0][1].toFixed(1);
  for (let i = 0; i < pts.length - 1; i++) {
    const p0 = pts[Math.max(0, i - 1)], p1 = pts[i], p2 = pts[i + 1], p3 = pts[Math.min(pts.length - 1, i + 2)];
    const c1x = clampX(p1[0] + (p2[0] - p0[0]) / 6);
    const c2x = clampX(p2[0] - (p3[0] - p1[0]) / 6);
    const c1y = between(p1[1] + (p2[1] - p0[1]) / 6, p1[1], p2[1]);
    const c2y = between(p2[1] - (p3[1] - p1[1]) / 6, p1[1], p2[1]);
    d += 'C' + c1x.toFixed(1) + ' ' + c1y.toFixed(1) + ' ' + c2x.toFixed(1) + ' ' + c2y.toFixed(1) + ' ' + p2[0].toFixed(1) + ' ' + p2[1].toFixed(1);
  }
  return d + 'L' + base + ' ' + pts[pts.length - 1][1].toFixed(1) + 'Z';
}

function drawPanel(cfg) {
  const id = cfg.id;
  const g = make(root, 'g', {});
  
  

  const yS = v => cfg.b - (v - cfg.yMin) / (cfg.yMax - cfg.yMin) * (cfg.b - cfg.t);
  const xK = k => cfg.l + k * (cfg.nx - cfg.l);
  const xD = v => cfg.nx + v * (cfg.r - cfg.nx);

  /* density of states */
  const dosPts = cfg.dosFreq.map((f, i) => [xD(cfg.dosVal[i]), yS(f)]);
  const dos = make(g, 'path', { d: dosPath(dosPts, cfg.nx), fill: '#84b897', stroke: GREEN, 'stroke-width': 2.1, 'stroke-linejoin': 'round' });
  
  

  /* phonon bands */
  const grid = kGrid(cfg.path, cfg.divs, cfg.breakSeg);
  let breakIdx = grid.length;
  if (cfg.breakSeg >= 0) {
    breakIdx = 1;
    for (let i = 0; i < cfg.breakSeg; i++) breakIdx += cfg.divs[i];
  }
  const bandsG = make(g, 'g', { fill: 'none', stroke: GREEN, 'stroke-width': 2.2, 'stroke-linecap': 'round' });
  
  
  cfg.bands.forEach(band => {
    const pts = band.map((v, i) => [xK(grid[i]), yS(v)]);
    const parts = breakIdx < pts.length ? [pts.slice(0, breakIdx), pts.slice(breakIdx)] : [pts];
    parts.forEach(part => {
      const line = make(bandsG, 'path', { d: splinePath(part) });
      
      
    });
  });

  /* zero line */
  if (cfg.yMin < 0) {
    const zero = make(g, 'line', { x1: cfg.l, x2: cfg.r, y1: yS(0), y2: yS(0), stroke: '#111', 'stroke-width': 1.8, 'stroke-dasharray': '11 7' });
    
    
  }

  /* high-symmetry vertical lines */
  cfg.path.forEach((k, i) => {
    if (i === 0) return;
    const v = make(g, 'line', { x1: xK(k), x2: xK(k), y1: cfg.t, y2: cfg.b, stroke: '#111', 'stroke-width': 2 });
    
    
  });

  /* frame */
  const frame = make(g, 'rect', { x: cfg.l, y: cfg.t, width: cfg.r - cfg.l, height: cfg.b - cfg.t, fill: 'none', stroke: '#222', 'stroke-width': 2.1 });
  
  

  /* y ticks and labels */
  cfg.ticks.forEach(t => {
    const y = yS(t);
    [[cfg.l, cfg.l + 18], [cfg.nx - 18, cfg.nx + 18], [cfg.r - 18, cfg.r]].forEach(s => {
      const tick = make(g, 'line', { x1: s[0], x2: s[1], y1: y, y2: y, stroke: '#111', 'stroke-width': 1.8 });
      
      
    });
    const lab = make(g, 'text', { x: cfg.l - 9, y: y + 9, 'text-anchor': 'end', 'font-size': 25.5 }, t < 0 ? '\u2212' + Math.abs(t) : String(t));
    
    
  });

  /* x labels */
  const xText = (x, s) => {
    const lab = make(g, 'text', { x: x, y: cfg.b + 27, 'text-anchor': 'middle', 'font-size': 25.5 }, s);
    
    
  };
  cfg.labels.forEach((s, i) => {
    const x = xK(cfg.path[i]);
    if (s.indexOf('|') >= 0) {
      const p = s.split('|');
      xText(x - 18, p[0]);
      xText(x - 2, '|');
      xText(x + 15, p[1]);
    } else {
      xText(x + (i === 0 ? 1 : 0), s);
    }
  });
  const dosLab = make(g, 'text', { x: cfg.dosX, y: cfg.b + 25, 'text-anchor': 'middle', 'font-size': 25.5 }, 'DOS');
  
  
}

const bccDivs = [2,2,2,2,2,2];
drawPanel({id:'a',l:84,r:472,t:87,b:509,nx:375.5,yMin:0,yMax:19.18,dosX:423,ticks:aTicks,labels:bccLabels,path:bccPathA,divs:bccDivs,breakSeg:5,bands:aBands,dosFreq:aDosFreq,dosVal:aDosVal});
drawPanel({id:'b',l:628,r:1016,t:87,b:509,nx:919.3,yMin:0,yMax:45.87,dosX:967,ticks:bTicks,labels:bccLabels,path:bccPathA,divs:bccDivs,breakSeg:5,bands:bBands,dosFreq:bDosFreq,dosVal:bDosVal});
drawPanel({id:'c',l:1178,r:1565,t:87,b:509,nx:1469,yMin:-3.0,yMax:32.25,dosX:1517,ticks:cTicks,labels:tetLabels,path:tetPath,divs:[2,2,4,4,2,2,3],breakSeg:-1,bands:cBands,dosFreq:cDosFreq,dosVal:cDosVal});
drawPanel({id:'d',l:82,r:470,t:664,b:1085,nx:373,yMin:0,yMax:17.3,dosX:421,ticks:dTicks,labels:bccLabels,path:bccPathA,divs:bccDivs,breakSeg:5,bands:dBands,dosFreq:dDosFreq,dosVal:dDosVal});
drawPanel({id:'e',l:628,r:1016,t:665,b:1087,nx:919,yMin:-5.15,yMax:45.07,dosX:967,ticks:eTicks,labels:bccLabels,path:bccPathA,divs:[4,2,4,4,2,2],breakSeg:5,bands:eBands,dosFreq:eDosFreq,dosVal:eDosVal});
drawPanel({id:'f',l:1178,r:1566,t:665,b:1087,nx:1469,yMin:-10.6,yMax:25.94,dosX:1517,ticks:fTicks,labels:tetLabels,path:tetPath,divs:[2,2,4,4,2,2,3],breakSeg:-1,bands:fBands,dosFreq:fDosFreq,dosVal:fDosVal});
</script>
</body>
</html>
